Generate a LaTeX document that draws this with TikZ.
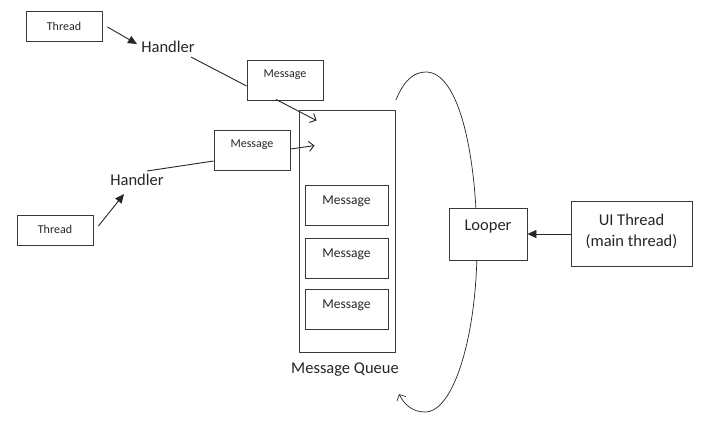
\documentclass[tikz,border=0pt]{standalone}
\usepackage{fontspec}
\setmainfont{Carlito}
\usetikzlibrary{arrows.meta,calc}
\definecolor{ink}{HTML}{262626}
\definecolor{edge}{HTML}{3A3A3A}
\tikzset{
  box/.style={draw=edge, line width=0.9pt, fill=white, rectangle, inner sep=0pt},
  small/.style={text=ink, font=\fontsize{12}{14}\selectfont, inner sep=0pt},
  mid/.style={text=ink, font=\fontsize{13.5}{16}\selectfont, inner sep=0pt},
  big/.style={text=ink, font=\fontsize{16.5}{20}\selectfont, inner sep=0pt, align=center},
  conn/.style={draw=ink, line width=0.9pt},
  solidtip/.style={conn, -{Triangle[length=9pt,width=8pt]}},
  opentip/.style={conn, -{Straight Barb[length=5pt,width=10pt]}},
}
\begin{document}
\begin{tikzpicture}[x=1pt,y=-1pt]
\fill[white] (0,0) rectangle (723,426);
\useasboundingbox (0,0) rectangle (723,426);

% loop curve (behind Looper)
\coordinate (cs) at (396,100);
\coordinate (ce) at (399,394);
\draw[opentip, line width=0.7pt] (cs) .. controls (404,80) and (414,72) .. (426,72)
  .. controls (458,72) and (476,150) .. (477,240)
  .. controls (478,330) and (455,412) .. (425,412)
  .. controls (412,412) and (404,404) .. (ce);

% Threads, handlers, messages
\node[box, minimum width=76, minimum height=30] (t1) at (64,26) {};
\node[small] (t1t) at (64,26) {Thread};
\node[big] (h1) at (168,47) {Handler};
\node[box, minimum width=76, minimum height=40] (m1) at (285,80) {};
\node[small] (m1t) at (285,75) {Message};

\node[box, minimum width=76, minimum height=40] (m2) at (252,150) {};
\node[small] (m2t) at (252,145) {Message};
\node[big] (h2) at (137,180) {Handler};
\node[box, minimum width=76, minimum height=30] (t2) at (55,230) {};
\node[small] (t2t) at (55,229) {Thread};

% queue
\node[box, minimum width=96, minimum height=242] (q) at (347,231) {};
\node[box, minimum width=83, minimum height=40] (q1) at (346.5,205.5) {};
\node[mid] (q1t) at (346.5,201) {Message};
\node[box, minimum width=83, minimum height=40] (q2) at (346.5,258) {};
\node[mid] (q2t) at (346.5,254) {Message};
\node[box, minimum width=83, minimum height=40] (q3) at (346.5,309) {};
\node[mid] (q3t) at (346.5,305) {Message};
\node[big] (ql) at (345,370) {Message Queue};

% looper and UI thread
\node[box, minimum width=78, minimum height=52] (lp) at (488,234) {};
\node[big] (lpt) at (488,227) {Looper};
\node[box, minimum width=121, minimum height=65] (ui) at (631.5,233.5) {};
\node[big] (uit) at (631.5,231) {UI Thread\\[1pt](main thread)};

% connectors
\draw[solidtip] ($(t1.east)+(5,1)$) -- ($(h1.center)+(-31,-3)$);
\draw[conn] ($(h1.center)+(23,10)$) -- ($(m1.west)+(0,6)$);
\draw[opentip] ($(m1.south)+(-9,-1)$) -- ($(q.north west)+(18,11)$);
\draw[conn] ($(h2.center)+(10,-9)$) -- ($(m2.west)+(0,11)$);
\draw[opentip] ($(m2.east)+(0,-1)$) -- ($(q.north west)+(16,36)$);
\draw[solidtip] ($(t2.east)+(5,-4)$) -- ($(h2.center)+(-13,14)$);
\draw[solidtip] (ui.west |- lp.east) -- (lp.east);
\end{tikzpicture}
\end{document}
